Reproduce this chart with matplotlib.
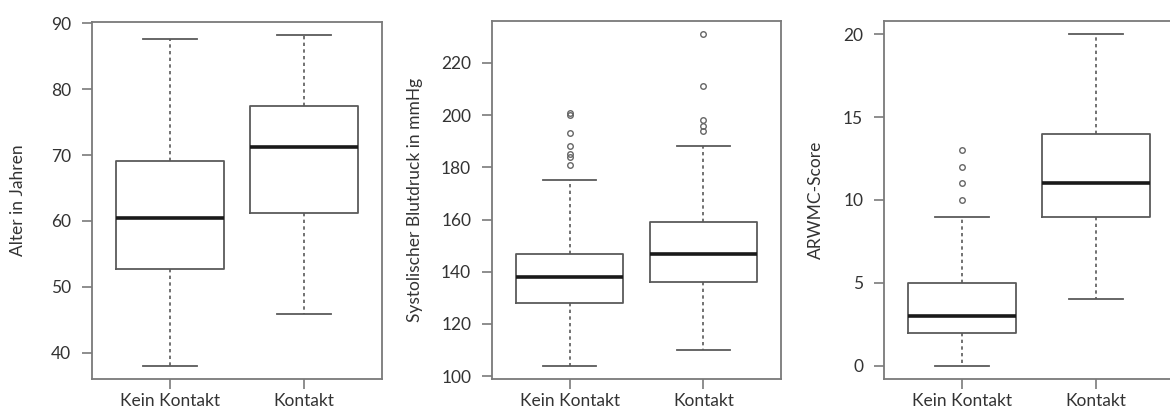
import matplotlib
matplotlib.use("Agg")
import matplotlib.pyplot as plt

plt.rcParams['font.family'] = ['Lato', 'DejaVu Sans']

groups = ["Kein Kontakt", "Kontakt"]

# Alter in Jahren: low whisker, Q1, median, Q3, high whisker
age_low = [38.0, 45.8]
age_q1 = [52.7, 61.2]
age_med = [60.4, 71.3]
age_q3 = [69.1, 77.5]
age_high = [87.7, 88.2]
age_out = [[], []]

# Systolischer Blutdruck
bp_low = [104, 110]
bp_q1 = [128, 136]
bp_med = [138, 147]
bp_q3 = [147, 159]
bp_high = [175, 188]
bp_out = [[181, 184, 185, 188, 193, 200, 201], [194, 196, 198, 211, 231]]

# ARWMC-Score
sc_low = [0, 4]
sc_q1 = [2, 9]
sc_med = [3, 11]
sc_q3 = [5, 14]
sc_high = [9, 20]
sc_out = [[10, 11, 12, 13], []]

panels = [
    (age_low, age_q1, age_med, age_q3, age_high, age_out, "Alter in Jahren",
     list(range(40, 91, 10)), -0.228),
    (bp_low, bp_q1, bp_med, bp_q3, bp_high, bp_out, "Systolischer Blutdruck in mmHg",
     list(range(100, 221, 20)), -0.239),
    (sc_low, sc_q1, sc_med, sc_q3, sc_high, sc_out, "ARWMC-Score",
     list(range(0, 21, 5)), -0.207),
]

W, H = 1170, 409
fig = plt.figure(figsize=(W / 100, H / 100), dpi=100)
rects = [(92, 382, 22, 379), (492, 781, 21, 379), (884, 1174, 21, 379)]

box_col = "#5a5a5a"
axis_col = "#7a7a7a"
text_col = "#333333"

for (lo, q1, med, q3, hi, out, ylab, yticks, lx), (l, r, t, b) in zip(panels, rects):
    ax = fig.add_axes([l / W, (H - b) / H, (r - l) / W, (b - t) / H])
    stats = []
    for i in range(2):
        stats.append(dict(whislo=lo[i], q1=q1[i], med=med[i], q3=q3[i],
                          whishi=hi[i], fliers=out[i], label=groups[i]))
    ax.bxp(stats, positions=[1, 2], widths=0.8, capwidths=0.4,
           boxprops=dict(color=box_col, linewidth=1.3),
           medianprops=dict(color="#1a1a1a", linewidth=2.6),
           whiskerprops=dict(color=box_col, linewidth=1.2, linestyle=(0, (2, 2))),
           capprops=dict(color=box_col, linewidth=1.3),
           flierprops=dict(marker="o", markersize=4, markerfacecolor="none",
                           markeredgecolor="#666666", markeredgewidth=1.0,
                           linestyle="none"))

    # R-style limits: 4% padding around the data
    allv = lo + hi + [v for o in out for v in o]
    vmin, vmax = min(allv), max(allv)
    pad = 0.04 * (vmax - vmin)
    ax.set_ylim(vmin - pad, vmax + pad)
    ax.set_xlim(0.5 - 0.08, 2.5 + 0.08)

    ax.set_yticks(yticks)
    ax.set_xticks([1, 2])
    ax.set_xticklabels(groups)
    ax.tick_params(axis="both", colors=axis_col, labelcolor=text_col,
                   length=7, width=1.2, labelsize=12.5)
    ax.tick_params(axis="y", pad=8)
    ax.tick_params(axis="x", pad=3)
    for s in ax.spines.values():
        s.set_color(axis_col)
        s.set_linewidth(1.3)

    ax.set_ylabel(ylab, fontsize=12.5, color=text_col)
    ax.yaxis.set_label_coords(lx, 0.5)

plt.savefig("out.png", dpi=100)
